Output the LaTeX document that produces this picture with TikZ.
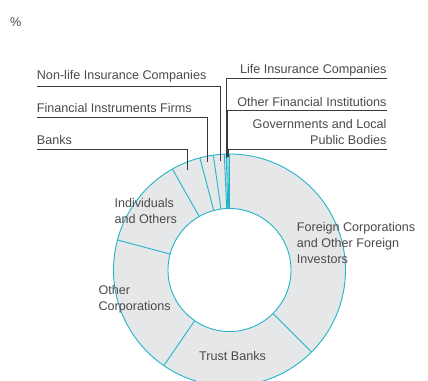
\documentclass[tikz,border=0pt]{standalone}
\usepackage{fontspec}
\setmainfont{Liberation Sans}
\usetikzlibrary{calc}
\definecolor{ringfill}{HTML}{E6E7E8}
\definecolor{ringline}{HTML}{22B5CA}
\definecolor{txt}{HTML}{4A4A4A}
\definecolor{lead}{HTML}{3A3A3A}
\begin{document}
\begin{tikzpicture}[x=1pt,y=1pt,
  lbl/.style={inner sep=0pt,text=txt,font=\fontsize{12.6}{16}\selectfont},
  lblL/.style={lbl,anchor=base west,align=left},
  lblR/.style={lbl,anchor=base east,align=right},
  leader/.style={draw=lead,line width=0.6pt},
  seg/.style={draw=ringline,line width=0.9pt}]
\useasboundingbox (0,0) rectangle (428,380);
\clip (0,0) rectangle (428,380);
\coordinate (C) at (229.5,110);
% ring
\fill[ringfill,even odd rule] (C) circle[radius=116] (C) circle[radius=61.5];
\draw[seg] (C) circle[radius=116];
\draw[seg] (C) circle[radius=61.5];
\foreach \a in {90,-45,-124.5,165,119.5,104.8,98,92.6,91.6,90.8}
  \draw[seg] ($(C)+(\a:61.5)$) -- ($(C)+(\a:116)$);
% percent
\node[lblL] (pct) at (10,353.5) {\%};
% left labels
\node[lblL] (nonlife) at (36.7,300.5) {Non-life Insurance Companies};
\node[lblL] (finins) at (36.7,267.2) {Financial Instruments Firms};
\node[lblL] (banks) at (36.7,235.5) {Banks};
% right labels
\node[lblR] (life) at (386.7,306.2) {Life Insurance Companies};
\node[lblR] (otherfin) at (386.7,273.8) {Other Financial Institutions};
\node[lblR] (gov) at (386.7,235.5) {Governments and Local\\Public Bodies};
% leader coordinates
\coordinate (bB) at (187.3,210);   \coordinate (eB) at (36.7,230.7);
\coordinate (bF) at (207.7,218.3); \coordinate (eF) at (36.7,262.3);
\coordinate (bN) at (220,219.3);   \coordinate (eN) at (36.7,294);
\coordinate (bL) at (226.6,222);   \coordinate (eL) at (387.3,301.7);
\coordinate (bO) at (227.4,223);   \coordinate (eO) at (387.3,270);
\coordinate (bG) at (228.3,223);   \coordinate (eG) at (387.3,231);
\draw[leader] (bB) |- (eB);
\draw[leader] (bF) |- (eF);
\draw[leader] (bN) |- (eN);
\draw[leader] (bL) |- (eL);
\draw[leader] (bO) |- (eO);
\draw[leader] (bG) |- (eG);
% segment labels
\node[lblL] (foreign) at (296.7,116.5) {Foreign Corporations\\and Other Foreign\\Investors};
\node[lblL] (indiv) at (114.3,156.5) {Individuals\\and Others};
\node[lblL] (othcorp) at (98.3,69.8) {Other\\Corporations};
\node[lblL] (trust) at (199,19.8) {Trust Banks};
\end{tikzpicture}
\end{document}
